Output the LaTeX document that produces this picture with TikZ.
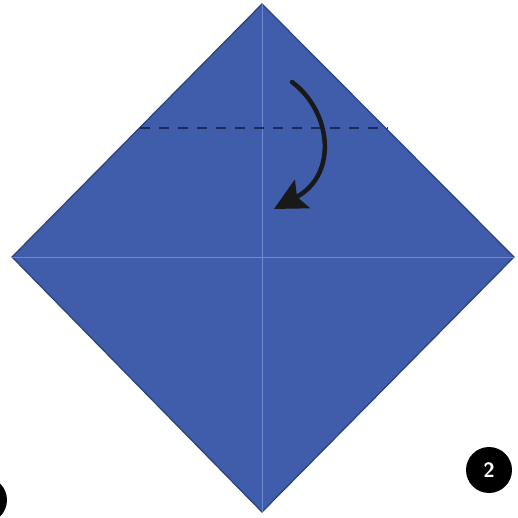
\documentclass[tikz,border=0pt]{standalone}
\usetikzlibrary{arrows.meta}
\definecolor{paper}{HTML}{3F5DAA}
\definecolor{edge}{HTML}{2B3F7C}
\definecolor{crease}{HTML}{6E8BD0}
\definecolor{dash}{HTML}{1B2A5C}
\begin{document}
\begin{tikzpicture}[x=1pt,y=-1pt,
  sheet/.style={fill=paper,draw=edge,line width=1.2pt,line join=miter},
  creaseline/.style={draw=crease,line width=1pt},
  foldline/.style={draw=dash,line width=2pt,dash pattern=on 10pt off 9pt},
  foldarrow/.style={draw=black!90,line width=4.5pt,line cap=round,-{Stealth[length=32pt,width=32pt,inset=6pt]}},
  stepmark/.style={circle,fill=black,minimum size=46pt,inner sep=0pt,text=white,font=\sffamily\bfseries\huge}]
\useasboundingbox (0,0) rectangle (518,518);
\fill[white] (0,0) rectangle (518,518);
\coordinate (T) at (262,4);
\coordinate (L) at (12,257);
\coordinate (R) at (514,257);
\coordinate (B) at (262,512);
\path[sheet] (T) -- (R) -- (B) -- (L) -- cycle;
\draw[creaseline] (T) -- (B);
\draw[creaseline] (L) -- (R);
\coordinate (dl) at (140,128);
\coordinate (dr) at (388,128);
\draw[foldline] (dl) -- (dr);
\coordinate (a0) at (292,82);
\coordinate (a1) at (274,209);
\draw[foldarrow] (a0) .. controls (332,112) and (338,175) .. (a1);
\node[stepmark] (two) at (489,470) {2};
\node[stepmark] (one) at (-16,500) {};
\end{tikzpicture}
\end{document}
